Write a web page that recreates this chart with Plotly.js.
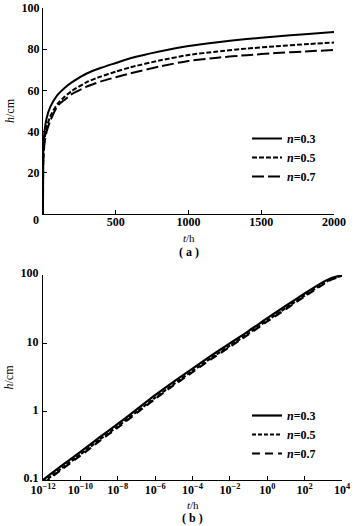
<!DOCTYPE html>
<html><head><meta charset="utf-8">
<script src="https://cdn.plot.ly/plotly-3.0.1.min.js"></script>
<style>html,body{margin:0;padding:0;background:#fff}</style>
</head><body><div id="chart" style="width:354px;height:526px"></div>
<script>
// (a) linear time axis, t in hours
const tA = [0, 2, 10, 25, 50, 100, 150, 200, 300, 400, 500, 600, 800, 1000, 1200, 1400, 1600, 1800, 2000];
const hA_n03 = [0, 30, 40, 46.5, 52, 57.8, 61.3, 64.0, 68.2, 71.0, 73.3, 75.6, 78.9, 81.5, 83.4, 84.9, 86.2, 87.3, 88.3];
const hA_n05 = [0, 27, 36, 42, 47.5, 53.5, 57, 59.8, 64, 66.8, 69.1, 71.2, 74.5, 77.2, 78.9, 80.3, 81.4, 82.4, 83.2];
const hA_n07 = [0, 26, 34, 40, 45.3, 52.5, 55.5, 58.3, 61.8, 64.4, 66.4, 68.3, 71.6, 74.3, 75.9, 77.1, 78.1, 78.9, 79.6];

// (b) log-log
const tB = [1e-12, 1e-11, 1e-10, 1e-9, 1e-8, 1e-7, 1e-6, 1e-5, 1e-4, 1e-3, 1e-2, 1e-1, 1, 10, 100, 1000, 3000, 10000];
const hB_n03 = [0.1, 0.162, 0.257, 0.417, 0.661, 1.07, 1.74, 2.75, 4.27, 6.61, 10.0, 15.1, 23.4, 35.5, 53.7, 79.4, 91.2, 98.5];
const hB_n05 = [0.092, 0.149, 0.237, 0.385, 0.61, 0.99, 1.6, 2.54, 3.95, 6.1, 9.25, 14.0, 21.7, 33.0, 50.2, 75.0, 88.0, 98];
const hB_n07 = [0.088, 0.143, 0.227, 0.368, 0.585, 0.95, 1.54, 2.44, 3.79, 5.87, 8.9, 13.5, 20.9, 31.8, 48.5, 73.0, 86.5, 97.5];

const names = ['<i>n</i>=0.3', '<i>n</i>=0.5', '<i>n</i>=0.7'];
const ticksA_x = [500, 1000, 1500, 2000];
const ticksA_y = [20, 40, 60, 80, 100];
const ticksB_x = [1e-12, 1e-10, 1e-8, 1e-6, 1e-4, 1e-2, 1, 1e2, 1e4];
const ticksB_xText = ['10<sup>−12</sup>', '10<sup>−10</sup>', '10<sup>−8</sup>', '10<sup>−6</sup>', '10<sup>−4</sup>', '10<sup>−2</sup>', '10<sup>0</sup>', '10<sup>2</sup>', '10<sup>4</sup>'];
const ticksB_y = [0.1, 1, 10, 100];
const ticksB_yText = ['0.1', '1', '10', '100'];

const SERIF = 'Liberation Serif, Times New Roman, serif';
const dashA = ['solid', '5px,2px', '12px,4px'];
const dashB = ['solid', '4px,2px', '8px,5px'];
const hA = [hA_n03, hA_n05, hA_n07];
const hB = [hB_n03, hB_n05, hB_n07];

const traces = [];
for (let i = 0; i < 3; i++) {
  traces.push({x: tA, y: hA[i], type: 'scatter', mode: 'lines', name: names[i],
    xaxis: 'x', yaxis: 'y', legend: 'legend',
    line: {color: '#000', width: 2, dash: dashA[i], shape: 'spline', smoothing: 0.5}});
}
for (let i = 0; i < 3; i++) {
  traces.push({x: tB, y: hB[i], type: 'scatter', mode: 'lines', name: names[i],
    xaxis: 'x2', yaxis: 'y2', legend: 'legend2',
    line: {color: '#000', width: 2.2, dash: dashB[i], shape: 'spline', smoothing: 0.6}});
}

const tickFont = {family: SERIF, size: 12, color: '#000', weight: 'bold'};
const axCommon = {showline: true, linecolor: '#000', linewidth: 1, ticks: 'inside', ticklen: 4,
  tickcolor: '#000', tickwidth: 1, showgrid: false, zeroline: false, tickfont: tickFont, mirror: false};

const px = v => (v - 43) / 299;      // pixel x -> paper x
const py = v => (480 - v) / 472;     // pixel y -> paper y
const titleFont = {family: SERIF, size: 11, color: '#000'};

const layout = {
  width: 354, height: 526,
  margin: {l: 43, r: 12, t: 8, b: 46},
  paper_bgcolor: '#fff', plot_bgcolor: '#fff',
  font: {family: SERIF, color: '#000', size: 12},
  xaxis: Object.assign({}, axCommon, {domain: [0, 0.9732], range: [0, 2000], tickvals: ticksA_x, anchor: 'y',
    ticklabelstandoff: -3}),
  yaxis: Object.assign({}, axCommon, {domain: [0.5636, 1], range: [0, 100], tickvals: ticksA_y, anchor: 'x',
    title: {text: '<i>h</i>/cm', font: {family: SERIF, size: 12}, standoff: 4}}),
  xaxis2: Object.assign({}, axCommon, {domain: [0, 1], type: 'log', range: [-12, 4], tickvals: ticksB_x, ticktext: ticksB_xText, anchor: 'y2',
    ticklabelstandoff: -1}),
  yaxis2: Object.assign({}, axCommon, {domain: [0, 0.4343], type: 'log', range: [-1, 2], tickvals: ticksB_y, ticktext: ticksB_yText, anchor: 'x2',
    ticklabelshift: -2, ticklabelstandoff: 1,
    title: {text: '<i>h</i>/cm', font: {family: SERIF, size: 12}, standoff: 4}}),
  legend: {x: px(247), y: py(124), xanchor: 'left', yanchor: 'top', bgcolor: 'rgba(0,0,0,0)',
    font: {family: SERIF, size: 12, color: '#000', weight: 'bold'}},
  legend2: {x: px(247), y: py(401), xanchor: 'left', yanchor: 'top', bgcolor: 'rgba(0,0,0,0)',
    font: {family: SERIF, size: 12, color: '#000', weight: 'bold'}},
  showlegend: true,
  annotations: [
    {text: '0', xref: 'paper', yref: 'paper', x: px(36), y: py(220), showarrow: false,
      xanchor: 'center', yanchor: 'middle', font: tickFont},
    {text: '<i>t</i>/h', xref: 'paper', yref: 'paper', x: px(188.5), y: py(238), showarrow: false,
      xanchor: 'center', yanchor: 'middle', font: titleFont, borderpad: 0},
    {text: '( a )', xref: 'paper', yref: 'paper', x: px(188.5), y: py(252), showarrow: false,
      xanchor: 'center', yanchor: 'middle', font: {family: SERIF, size: 12, weight: 'bold'}, borderpad: 0},
    {text: '<i>t</i>/h', xref: 'paper', yref: 'paper', x: px(192.5), y: py(505), showarrow: false,
      xanchor: 'center', yanchor: 'middle', font: titleFont, borderpad: 0},
    {text: '( b )', xref: 'paper', yref: 'paper', x: px(192.5), y: py(518), showarrow: false,
      xanchor: 'center', yanchor: 'middle', font: {family: SERIF, size: 12, weight: 'bold'}, borderpad: 0}
  ]
};

Plotly.newPlot('chart', traces, layout, {displayModeBar: false, staticPlot: true});
</script></body></html>
